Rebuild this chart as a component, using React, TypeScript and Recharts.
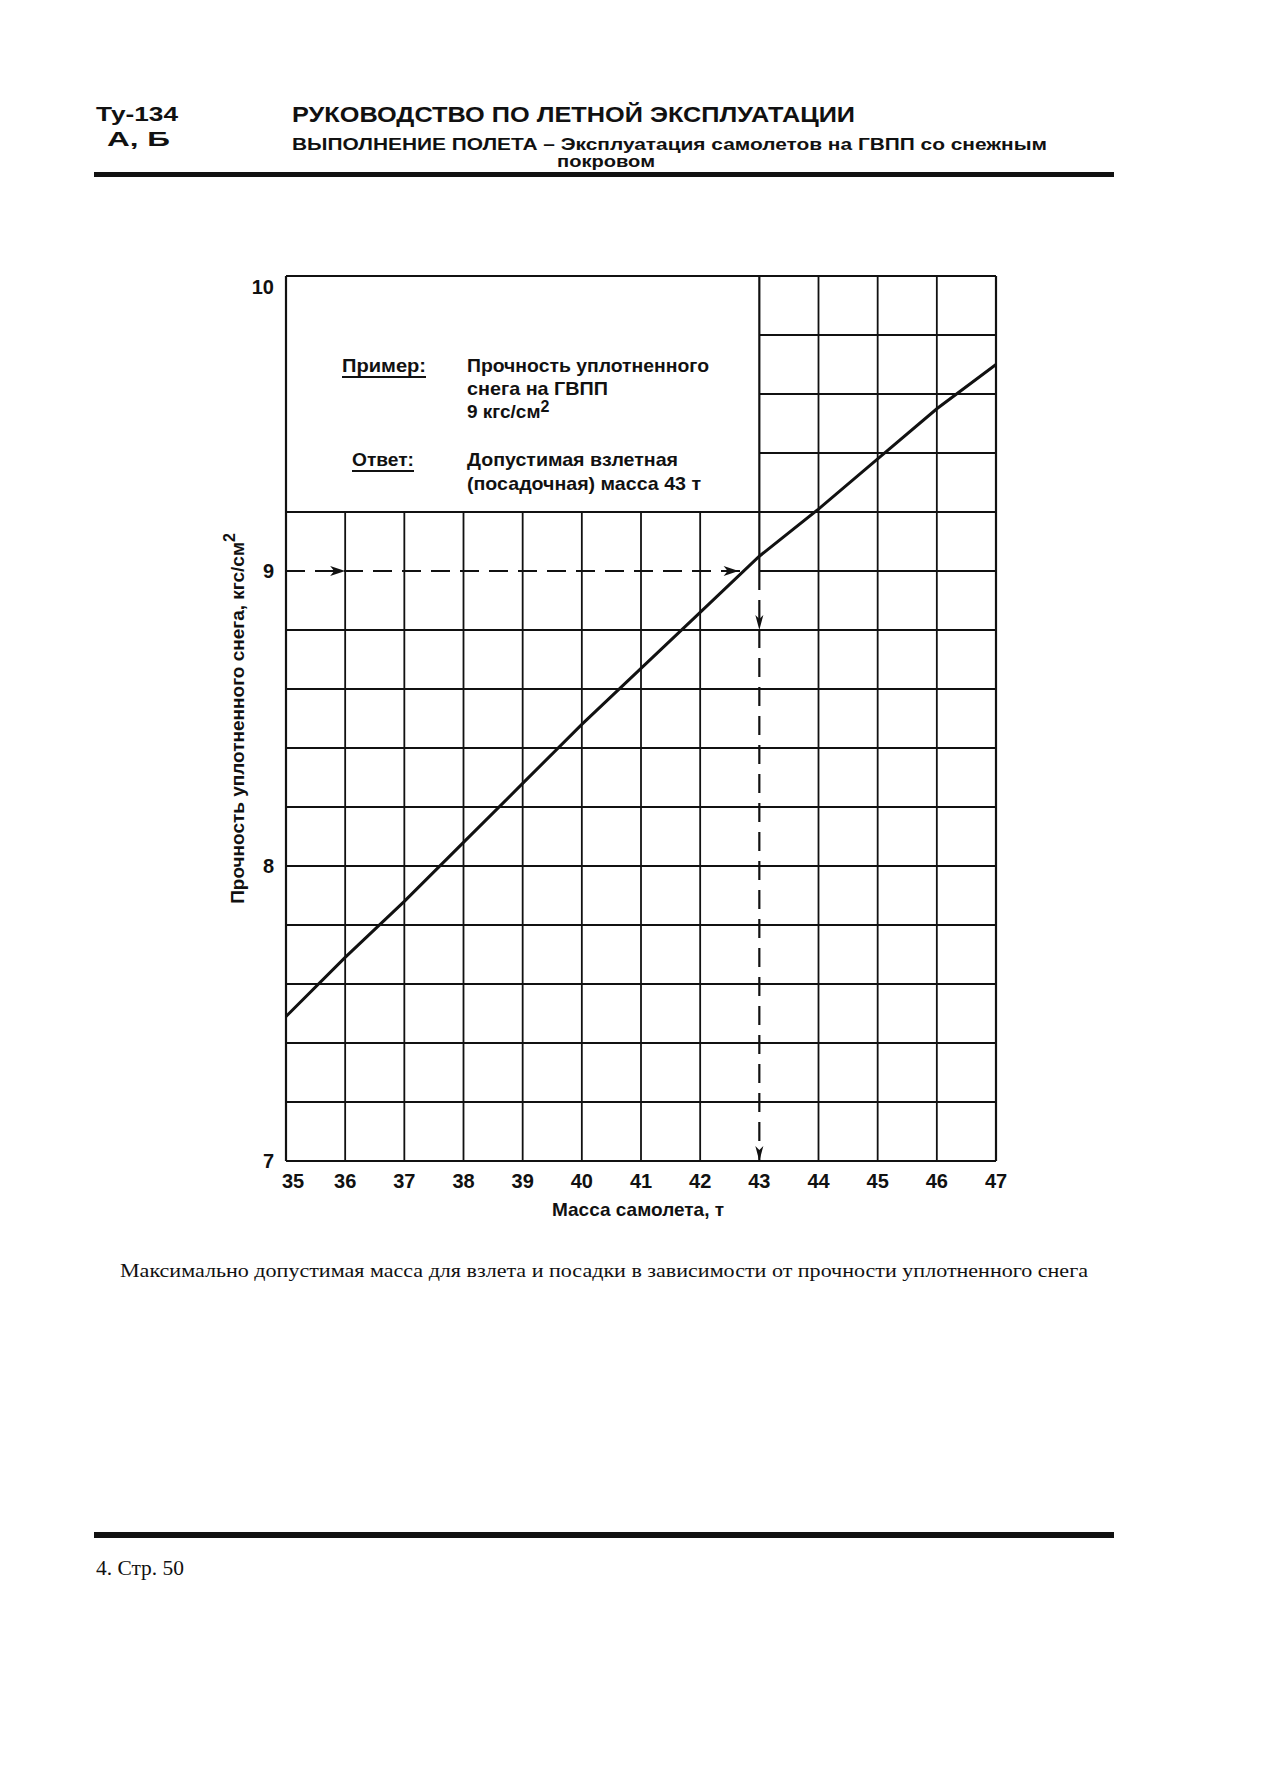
import { ComposedChart, Line, XAxis, YAxis, ReferenceLine, ReferenceDot } from "recharts";

// масса самолета, т
const mass = [35, 36, 37, 38, 39, 40, 41, 42, 43, 44, 45, 46, 47];
// прочность уплотненного снега, кгс/см2
const strength = [7.49, 7.69, 7.88, 8.08, 8.28, 8.48, 8.67, 8.86, 9.05, 9.21, 9.38, 9.55, 9.7];

const massTicks = [35, 36, 37, 38, 39, 40, 41, 42, 43, 44, 45, 46, 47];
const strengthTicks = [7, 8, 9, 10];

// grid: left part stops under the example box
const lowerVert = [36, 37, 38, 39, 40, 41, 42];
const fullVert = [44, 45, 46];
const fullHoriz = [7.2, 7.4, 7.6, 7.8, 8.0, 8.2, 8.4, 8.6, 8.8, 9.2];
const upperHoriz = [9.4, 9.6, 9.8];
const boxBottom = 9.2;

// example: 9 кгс/см2 -> 43 т
const exampleStrength = 9;
const exampleMass = 43;
const crossMass = 42.7;
const arrowsRight = [36, 42.65];
const arrowsDown = [8.8, 7.0];

const curve = mass.map((m, i) => ({ mass: m, strength: strength[i] }));

const sans = "'Liberation Sans', Arial, sans-serif";
const serif = "'Liberation Serif', 'Times New Roman', serif";
const ink = "#111";

const XTick = ({ x, y, payload }: any) => (
  <text
    x={x + (payload.value === 35 ? 7 : 0)}
    y={y + 27}
    textAnchor="middle"
    fontSize={20}
    fontWeight="bold"
    fontFamily={sans}
    fill={ink}
  >
    {payload.value}
  </text>
);

const YTick = ({ x, y, payload }: any) => (
  <text
    x={x - 12}
    y={y + 7 + (payload.value === 10 ? 11 : 0)}
    textAnchor="end"
    fontSize={20}
    fontWeight="bold"
    fontFamily={sans}
    fill={ink}
  >
    {payload.value}
  </text>
);

const ArrowRight = ({ cx, cy }: any) => (
  <polygon points={`${cx},${cy} ${cx - 15},${cy - 5} ${cx - 11},${cy} ${cx - 15},${cy + 5}`} fill={ink} />
);

const ArrowDown = ({ cx, cy }: any) => (
  <polygon points={`${cx},${cy} ${cx - 4},${cy - 15} ${cx},${cy - 11} ${cx + 4},${cy - 15}`} fill={ink} />
);

const YLabel = ({ viewBox }: any) => {
  const cx = viewBox.x + 57;
  const cy = viewBox.y + viewBox.height / 2;
  return (
    <text
      x={cx}
      y={cy}
      transform={`rotate(-90 ${cx} ${cy})`}
      textAnchor="middle"
      dominantBaseline="central"
      fontSize={19}
      fontWeight="bold"
      fontFamily={sans}
      fill={ink}
    >
      Прочность уплотненного снега, кгс/см
      <tspan dy={-8} fontSize={16}>2</tspan>
    </text>
  );
};

const XLabel = ({ viewBox }: any) => (
  <text
    x={viewBox.x + viewBox.width / 2 - 3}
    y={viewBox.y + 55}
    textAnchor="middle"
    fontSize={19}
    fontWeight="bold"
    fontFamily={sans}
    fill={ink}
  >
    Масса самолета, т
  </text>
);

function Chart() {
  const grid = { stroke: ink, strokeWidth: 1.8 };
  const frame = { stroke: ink, strokeWidth: 2.2 };
  return (
    <ComposedChart width={850} height={1000} margin={{ top: 46, right: 34, bottom: 0, left: 0 }}>
      <XAxis
        dataKey="mass"
        type="number"
        domain={[35, 47]}
        ticks={massTicks}
        interval={0}
        axisLine={false}
        tickLine={false}
        tickSize={0}
        tickMargin={0}
        height={69}
        tick={<XTick />}
        label={{ content: XLabel }}
      />
      <YAxis
        type="number"
        domain={[7, 10]}
        ticks={strengthTicks}
        interval={0}
        axisLine={false}
        tickLine={false}
        tickSize={0}
        tickMargin={0}
        width={106}
        tick={<YTick />}
        label={{ content: YLabel }}
      />

      {lowerVert.map((m) => (
        <ReferenceLine key={`lv${m}`} segment={[{ x: m, y: 7 }, { x: m, y: boxBottom }]} {...grid} />
      ))}
      {fullVert.map((m) => (
        <ReferenceLine key={`fv${m}`} segment={[{ x: m, y: 7 }, { x: m, y: 10 }]} {...grid} />
      ))}
      {fullHoriz.map((s) => (
        <ReferenceLine key={`fh${s}`} segment={[{ x: 35, y: s }, { x: 47, y: s }]} {...grid} />
      ))}
      {upperHoriz.map((s) => (
        <ReferenceLine key={`uh${s}`} segment={[{ x: exampleMass, y: s }, { x: 47, y: s }]} {...grid} />
      ))}
      <ReferenceLine segment={[{ x: exampleMass, y: exampleStrength }, { x: 47, y: exampleStrength }]} {...grid} />
      <ReferenceLine segment={[{ x: exampleMass, y: exampleStrength }, { x: exampleMass, y: 10 }]} {...frame} />

      <ReferenceLine segment={[{ x: 35, y: 7 }, { x: 47, y: 7 }]} {...frame} />
      <ReferenceLine segment={[{ x: 35, y: 10 }, { x: 47, y: 10 }]} {...frame} />
      <ReferenceLine segment={[{ x: 35, y: 7 }, { x: 35, y: 10 }]} {...frame} />
      <ReferenceLine segment={[{ x: 47, y: 7 }, { x: 47, y: 10 }]} {...frame} />

      <ReferenceLine
        segment={[{ x: 35, y: exampleStrength }, { x: crossMass, y: exampleStrength }]}
        stroke={ink}
        strokeWidth={2.2}
        strokeDasharray="19 10"
      />
      <ReferenceLine
        segment={[{ x: exampleMass, y: exampleStrength }, { x: exampleMass, y: 7 }]}
        stroke={ink}
        strokeWidth={2.2}
        strokeDasharray="19 10"
      />
      {arrowsRight.map((m) => (
        <ReferenceDot key={`ar${m}`} x={m} y={exampleStrength} r={1} shape={<ArrowRight />} />
      ))}
      {arrowsDown.map((s) => (
        <ReferenceDot key={`ad${s}`} x={exampleMass} y={s} r={1} shape={<ArrowDown />} />
      ))}

      <Line
        data={curve}
        dataKey="strength"
        type="linear"
        stroke={ink}
        strokeWidth={3}
        dot={false}
        isAnimationActive={false}
      />
    </ComposedChart>
  );
}

export default function App() {
  const bold = { fontFamily: sans, fontWeight: "bold" as const, fill: ink };
  return (
    <div style={{ position: "absolute", left: 0, top: 0, width: 1269, height: 1773, background: "#fff" }}>
      <div style={{ position: "absolute", left: 180, top: 230 }}>
        <Chart />
      </div>
      <svg width={1269} height={1773} style={{ position: "absolute", left: 0, top: 0, pointerEvents: "none" }}>
        {/* header */}
        <text x={96} y={121} fontSize={21} textLength={82} lengthAdjust="spacingAndGlyphs" {...bold}>Ту-134</text>
        <text x={107} y={146} fontSize={20} textLength={63} lengthAdjust="spacingAndGlyphs" {...bold}>А, Б</text>
        <text x={292} y={122} fontSize={22} textLength={563} lengthAdjust="spacingAndGlyphs" {...bold}>
          РУКОВОДСТВО ПО ЛЕТНОЙ ЭКСПЛУАТАЦИИ
        </text>
        <text x={292} y={150} fontSize={16} textLength={755} lengthAdjust="spacingAndGlyphs" {...bold}>
          ВЫПОЛНЕНИЕ ПОЛЕТА – Эксплуатация самолетов на ГВПП со снежным
        </text>
        <text x={557} y={167} fontSize={16} textLength={98} lengthAdjust="spacingAndGlyphs" {...bold}>покровом</text>
        <rect x={94} y={172} width={1020} height={5} fill={ink} />

        {/* example box */}
        <text x={342} y={372} fontSize={19} textLength={84} lengthAdjust="spacingAndGlyphs" {...bold}>Пример:</text>
        <line x1={342} x2={426} y1={377} y2={377} stroke={ink} strokeWidth={2} />
        <text x={467} y={372} fontSize={19} textLength={242} lengthAdjust="spacingAndGlyphs" {...bold}>Прочность уплотненного</text>
        <text x={467} y={395} fontSize={19} textLength={141} lengthAdjust="spacingAndGlyphs" {...bold}>снега на ГВПП</text>
        <text x={467} y={418} fontSize={19} {...bold}>
          9 кгс/см<tspan dy={-6} fontSize={16}>2</tspan>
        </text>
        <text x={352} y={466} fontSize={19} textLength={62} lengthAdjust="spacingAndGlyphs" {...bold}>Ответ:</text>
        <line x1={352} x2={414} y1={471} y2={471} stroke={ink} strokeWidth={2} />
        <text x={467} y={466} fontSize={19} textLength={211} lengthAdjust="spacingAndGlyphs" {...bold}>Допустимая взлетная</text>
        <text x={467} y={490} fontSize={19} textLength={234} lengthAdjust="spacingAndGlyphs" {...bold}>(посадочная) масса 43 т</text>

        {/* caption and footer */}
        <text x={120} y={1277} fontSize={19} fontFamily={serif} fill={ink} textLength={968} lengthAdjust="spacingAndGlyphs">
          Максимально допустимая масса для взлета и посадки в зависимости от прочности уплотненного снега
        </text>
        <rect x={94} y={1532} width={1020} height={6} fill={ink} />
        <text x={96} y={1575} fontSize={21} fontFamily={serif} fill={ink} textLength={88} lengthAdjust="spacingAndGlyphs">
          4. Стр. 50
        </text>
      </svg>
    </div>
  );
}
